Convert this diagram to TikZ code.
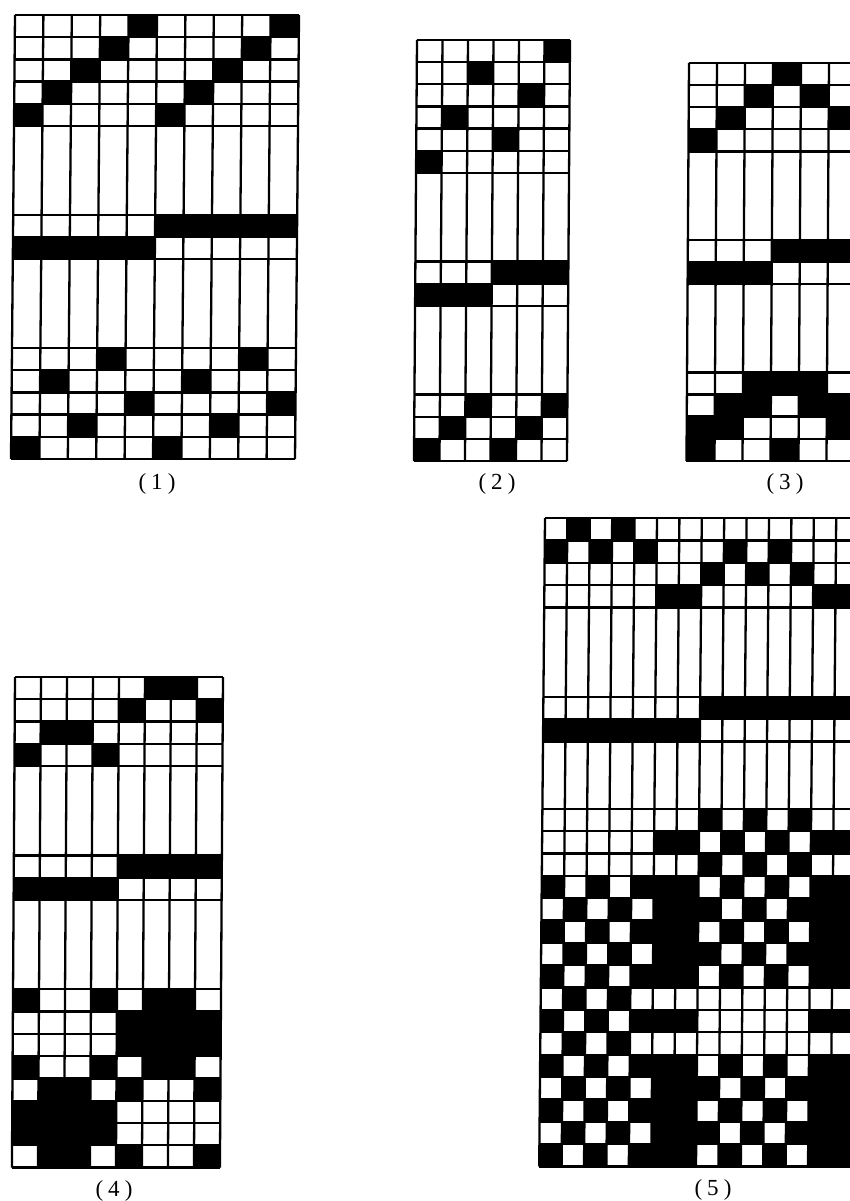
\documentclass[tikz,border=0pt]{standalone}
\usepackage{fontspec}
\setmainfont{Liberation Serif}
\newfontfamily\capfont[LetterSpace=22]{Liberation Serif}
\tikzset{
  gridline/.style={line width=2.3pt, black, line cap=square},
  cell/.style={fill=black},
  caption/.style={font=\capfont\fontsize{23}{25}\selectfont, inner sep=0pt}
}
% cols, height, row lines, filled cells (row/{cols})
\newcommand{\weave}[4]{
  \foreach \r/\cs in {#4} \foreach \c in \cs {\fill[cell] (\c,\r) rectangle +(1,1);}
  \foreach \c in {0,...,#1} \draw[gridline] (\c,0) -- (\c,#2);
  \foreach \r in {#3} \draw[gridline] (0,\r) -- (#1,\r);
}
\begin{document}
\begin{tikzpicture}[x=1pt, y=-1pt]
\useasboundingbox (0,0) rectangle (850,1201);
\clip (0,0) rectangle (850,1201);
% (1)
\begin{scope}[shift={(15,15)}, x={(28.4pt,0pt)}, y={(-0.2pt,-22.2pt)}]
\weave{10}{20}{0,...,5,9,10,11,15,16,...,20}{0/{4,9},1/{3,8},2/{2,7},3/{1,6},4/{0,5},9/{5,6,7,8,9},10/{0,1,2,3,4},
  15/{3,8},16/{1,6},17/{4,9},18/{2,7},19/{0,5}}
\end{scope}
% (2)
\begin{scope}[shift={(417,40)}, x={(25.5pt,0pt)}, y={(-0.16pt,-22.16pt)}]
\weave{6}{19}{0,...,6,10,11,12,16,17,18,19}{0/{5},1/{2},2/{4},3/{1},4/{3},5/{0},10/{3,4,5},11/{0,1,2},
  16/{2,5},17/{1,4},18/{0,3}}
\end{scope}
% (3)
\begin{scope}[shift={(689,63)}, x={(28pt,0pt)}, y={(-0.14pt,-22.1pt)}]
\weave{6}{18}{0,...,4,8,9,10,14,15,...,18}{0/{3},1/{2,4},2/{1,5},3/{0},8/{3,4,5},9/{0,1,2},
  14/{2,3,4},15/{1,2,4,5},16/{0,1,5},17/{0,3}}
\end{scope}
% (4)
\begin{scope}[shift={(15,677)}, x={(26pt,0pt)}, y={(-0.14pt,-22.3pt)}]
\weave{8}{22}{0,...,4,8,9,10,14,15,...,22}{0/{5,6},1/{4,7},2/{1,2},3/{0,3},8/{4,5,6,7},9/{0,1,2,3},
  14/{0,3,5,6},15/{4,5,6,7},16/{4,5,6,7},17/{0,3,5,6},18/{1,2,4,7},19/{0,1,2,3},20/{0,1,2,3},21/{1,2,4,7}}
\end{scope}
% (5)
\begin{scope}[shift={(545,518)}, x={(22.4pt,0pt)}, y={(-0.2pt,-22.36pt)}]
\weave{14}{29}{0,...,4,8,9,10,13,14,...,29}{0/{1,3},1/{0,2,4,8,10},2/{7,9,11},3/{5,6,12,13},
  8/{7,8,9,10,11,12,13},9/{0,1,2,3,4,5,6},
  13/{7,9,11},14/{5,6,8,10,12,13},15/{7,9,11},
  16/{0,2,4,5,6,8,10,12,13},17/{1,3,5,6,7,9,11,12,13},18/{0,2,4,5,6,8,10,12,13},19/{1,3,5,6,7,9,11,12,13},20/{0,2,4,5,6,8,10,12,13},
  21/{1,3},22/{0,2,4,5,6,12,13},23/{1,3},
  24/{0,2,4,5,6,8,10,12,13},25/{1,3,5,6,7,9,11,12,13},26/{0,2,4,5,6,8,10,12,13},27/{1,3,5,6,7,9,11,12,13},28/{0,2,4,5,6,8,10,12,13}}
\end{scope}
% captions
\node[caption] (cap1) at (157,484) {(1)};
\node[caption] (cap2) at (497,484) {(2)};
\node[caption] (cap3) at (785,484) {(3)};
\node[caption] (cap4) at (114,1191) {(4)};
\node[caption] (cap5) at (713,1190) {(5)};
\end{tikzpicture}
\end{document}
